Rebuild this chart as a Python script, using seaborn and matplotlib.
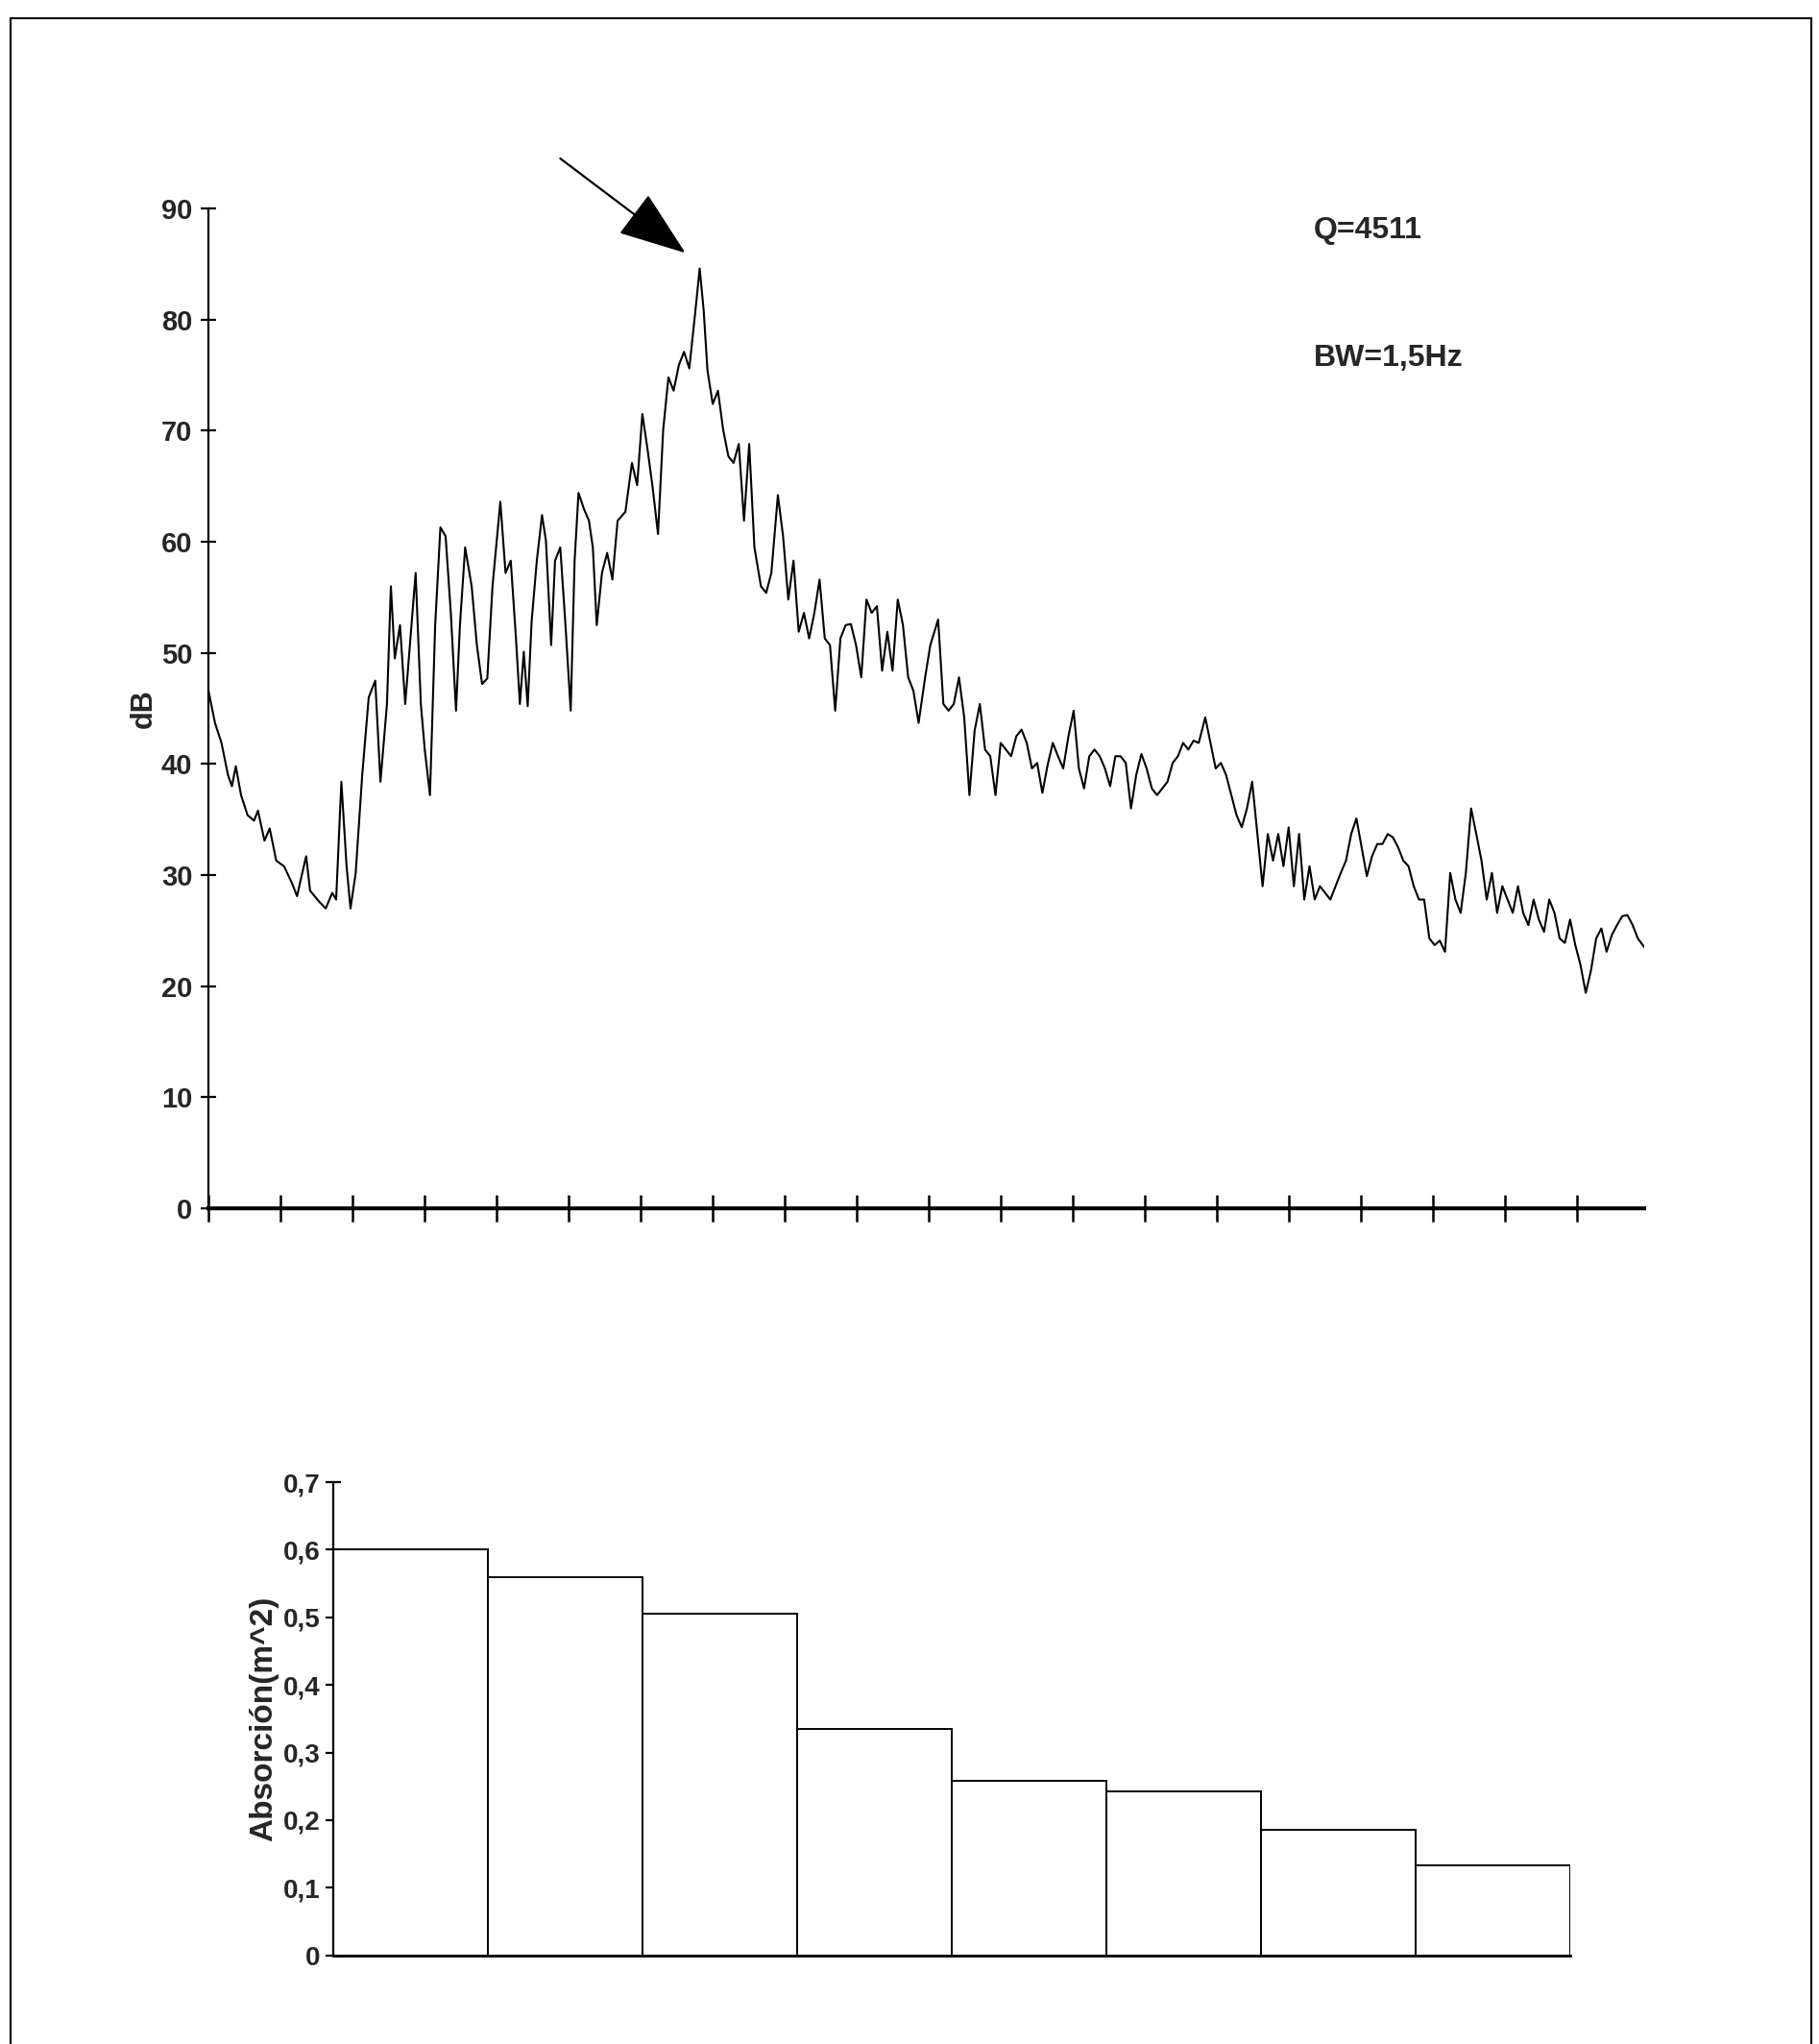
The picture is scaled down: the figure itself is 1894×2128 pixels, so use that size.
import pandas as pd
import matplotlib
matplotlib.use("Agg")
import matplotlib.pyplot as plt
import seaborn as sns
import numpy as np

# spectrum trace (x in channel units, level in dB)
chan = [160, 165, 170, 175, 178, 181, 185, 190, 195, 198, 203, 207, 212, 218, 224, 228, 232, 235, 238, 245,
        250, 255, 258, 262, 266, 269, 273, 278, 283, 288, 292, 297, 300, 303, 307, 311, 315, 319, 323, 326,
        330, 334, 338, 342, 346, 350, 353, 357, 362, 366, 370, 374, 378, 384, 388, 392, 396, 399, 402, 405,
        408, 412, 416, 419, 423, 426, 430, 434, 438, 441, 444, 448, 452, 455, 458, 462, 466, 470, 474, 480,
        485, 489, 493, 497, 501, 505, 509, 513, 517, 521, 525, 529, 533, 537, 540, 543, 547, 551, 555, 559,
        563, 567, 571, 575, 579, 584, 588, 592, 597, 601, 605, 609, 613, 617, 621, 625, 629, 633, 637, 641,
        645, 649, 653, 657, 661, 665, 669, 673, 677, 681, 685, 689, 693, 697, 701, 705, 710, 714, 720, 724,
        728, 732, 736, 740, 744, 748, 752, 756, 760, 764, 768, 772, 776, 780, 784, 788, 792, 796, 800, 804,
        808, 812, 816, 820, 824, 828, 832, 836, 840, 844, 848, 852, 856, 860, 864, 868, 872, 876, 880, 884,
        888, 892, 896, 900, 904, 908, 912, 916, 920, 925, 929, 933, 937, 941, 945, 949, 953, 957, 961, 965,
        969, 973, 977, 981, 985, 989, 993, 997, 1001, 1005, 1009, 1013, 1017, 1021, 1025, 1029, 1033, 1037,
        1041, 1045, 1049, 1053, 1057, 1061, 1065, 1069, 1073, 1077, 1081, 1085, 1089, 1093, 1097, 1101, 1105,
        1109, 1113, 1117, 1121, 1125, 1129, 1133, 1137, 1141, 1145, 1149, 1153, 1157, 1161, 1165, 1169, 1173,
        1177, 1181, 1185, 1189, 1193, 1197, 1201, 1205, 1209, 1213, 1217, 1221, 1225, 1229, 1233, 1237, 1241,
        1245, 1249, 1253, 1257, 1262]
level_db = [46.6, 43.7, 41.9, 39.0, 38.0, 39.8, 37.2, 35.4, 34.9, 35.8, 33.1, 34.2, 31.3, 30.8, 29.3, 28.1, 30.2, 31.7, 28.6, 27.6,
            27.0, 28.4, 27.8, 38.4, 30.8, 27.0, 30.2, 39.0, 46.0, 47.5, 38.4, 45.4, 56.0, 49.5, 52.5, 45.4, 51.3, 57.2, 45.4, 41.3,
            37.2, 52.5, 61.3, 60.5, 53.6, 44.8, 52.5, 59.5, 56.0, 50.7, 47.2, 47.7, 56.0, 63.6, 57.2, 58.3, 51.3, 45.4, 50.1, 45.2,
            52.8, 58.3, 62.4, 60.1, 50.7, 58.3, 59.5, 52.5, 44.8, 58.3, 64.4, 63.0, 61.9, 59.5, 52.5, 57.2, 59.0, 56.6, 61.9, 62.7,
            67.1, 65.1, 71.5, 68.3, 64.8, 60.7, 70.1, 74.8, 73.6, 75.9, 77.1, 75.6, 80.0, 84.6, 80.9, 75.4, 72.4, 73.6, 70.1, 67.7,
            67.1, 68.8, 61.9, 68.8, 59.5, 56.0, 55.4, 57.2, 64.2, 60.5, 54.8, 58.3, 51.9, 53.6, 51.3, 53.6, 56.6, 51.3, 50.7, 44.8,
            51.3, 52.5, 52.6, 50.7, 47.8, 54.8, 53.6, 54.2, 48.4, 51.9, 48.4, 54.8, 52.5, 47.8, 46.6, 43.7, 47.8, 50.7, 53.0, 45.4,
            44.8, 45.4, 47.8, 44.2, 37.2, 43.0, 45.4, 41.3, 40.7, 37.2, 41.9, 41.3, 40.7, 42.5, 43.1, 41.9, 39.6, 40.1, 37.4, 39.9,
            41.9, 40.7, 39.6, 42.5, 44.8, 39.6, 37.8, 40.7, 41.3, 40.7, 39.6, 38.0, 40.7, 40.7, 40.1, 36.0, 39.0, 40.9, 39.6, 37.8,
            37.2, 37.8, 38.4, 40.1, 40.7, 41.9, 41.3, 42.1, 41.9, 44.2, 41.9, 39.6, 40.1, 39.0, 37.2, 35.4, 34.3, 36.0, 38.4, 33.7,
            29.0, 33.7, 31.3, 33.7, 30.8, 34.3, 29.0, 33.7, 27.8, 30.8, 27.8, 29.0, 28.4, 27.8, 29.0, 30.2, 31.3, 33.7,
            35.1, 32.5, 29.9, 31.7, 32.8, 32.8, 33.7, 33.4, 32.5, 31.3, 30.8, 29.0, 27.8, 27.8, 24.3, 23.7, 24.1,
            23.1, 30.2, 27.8, 26.6, 30.2, 36.0, 33.7, 31.3, 27.8, 30.2, 26.6, 29.0, 27.8, 26.6, 29.0, 26.6, 25.5,
            27.8, 26.0, 24.9, 27.8, 26.6, 24.3, 23.9, 26.0, 23.7, 21.9, 19.4, 21.4, 24.3, 25.2, 23.1, 24.6, 25.5,
            26.3, 26.4, 25.5, 24.3, 23.5]

# absorption bars
bands = ["1", "2", "3", "4", "5", "6", "7", "8"]
absorcion = [0.60, 0.56, 0.505, 0.335, 0.258, 0.243, 0.186, 0.133]

db_ticks = [0, 10, 20, 30, 40, 50, 60, 70, 80, 90]
abs_ticks = [0, 0.1, 0.2, 0.3, 0.4, 0.5, 0.6, 0.7]
abs_labels = ["0", "0,1", "0,2", "0,3", "0,4", "0,5", "0,6", "0,7"]

sns.set_style("white")
plt.rcParams['font.family'] = ['Liberation Sans Narrow', 'Liberation Sans', 'DejaVu Sans']
plt.rcParams['font.weight'] = 'bold'

fig = plt.figure(figsize=(18.94, 21.28), dpi=100)

# scan frame
for xs, ys in [([0.006, 0.996], [0.991, 0.991]), ([0.006, 0.006], [0.991, 0.0]), ([0.996, 0.996], [0.991, 0.0])]:
    fig.add_artist(plt.Line2D(xs, ys, transform=fig.transFigure, color='black', lw=1.5))

# top: spectrum
ax1 = fig.add_axes([0.1146, 0.4088, 0.7894, 0.4892])
df = pd.DataFrame({'chan': chan, 'dB': level_db})
sns.lineplot(data=df, x='chan', y='dB', ax=ax1, color='black', lw=1.5, estimator=None, sort=False)
ax1.set_xlim(160, 1262)
ax1.set_ylim(0, 90)
ax1.set_xticks(np.linspace(160, 1210, 20))
ax1.set_xticklabels([])
ax1.set_yticks(db_ticks)
ax1.set_yticklabels([str(t) for t in db_ticks], fontsize=21, fontweight='bold')
ax1.tick_params(axis='both', direction='inout', length=12, width=1.6, color='black', pad=6,
                bottom=True, left=True)
ax1.tick_params(axis='x', length=20, width=1.8)
for s in ['top', 'right']:
    ax1.spines[s].set_visible(False)
for s in ['left', 'bottom']:
    ax1.spines[s].set_color('black')
ax1.spines['left'].set_linewidth(1.6)
ax1.spines['bottom'].set_linewidth(3)
ax1.set_xlabel('')
ax1.set_ylabel('dB', fontsize=22, fontweight='bold', labelpad=2)

ax1.text(1008, 88, 'Q=4511', fontsize=23, fontweight='bold', va='center', ha='left')
ax1.text(1008, 76.5, 'BW=1,5Hz', fontsize=23, fontweight='bold', va='center', ha='left')
ax1.annotate('', xy=(526, 86.0), xytext=(430, 94.5), annotation_clip=False,
             arrowprops=dict(arrowstyle='-|>,head_length=1.5,head_width=0.55', color='black',
                             lw=1.6, mutation_scale=30, shrinkA=0, shrinkB=0))

# bottom: absorption
ax2 = fig.add_axes([0.1834, 0.0434, 0.6798, 0.2315])
dfb = pd.DataFrame({'banda': bands, 'abs': absorcion})
sns.barplot(data=dfb, x='banda', y='abs', ax=ax2, color='white', edgecolor='black',
            linewidth=1.4, width=1.0, saturation=1)
ax2.set_xlim(-0.5, 7.5)
ax2.set_ylim(0, 0.7)
ax2.set_xticks([])
ax2.set_yticks(abs_ticks)
ax2.set_yticklabels(abs_labels, fontsize=20, fontweight='bold')
ax2.tick_params(axis='y', direction='inout', length=12, width=1.6, color='black', pad=4, left=True)
for s in ['top', 'right']:
    ax2.spines[s].set_visible(False)
ax2.spines['left'].set_color('black')
ax2.spines['bottom'].set_color('black')
ax2.spines['left'].set_linewidth(1.6)
ax2.spines['bottom'].set_linewidth(2)
ax2.set_xlabel('')
ax2.set_ylabel('Absorción(m^2)', fontsize=24, fontweight='bold', labelpad=3)

fig.savefig('out.png', dpi=100)
